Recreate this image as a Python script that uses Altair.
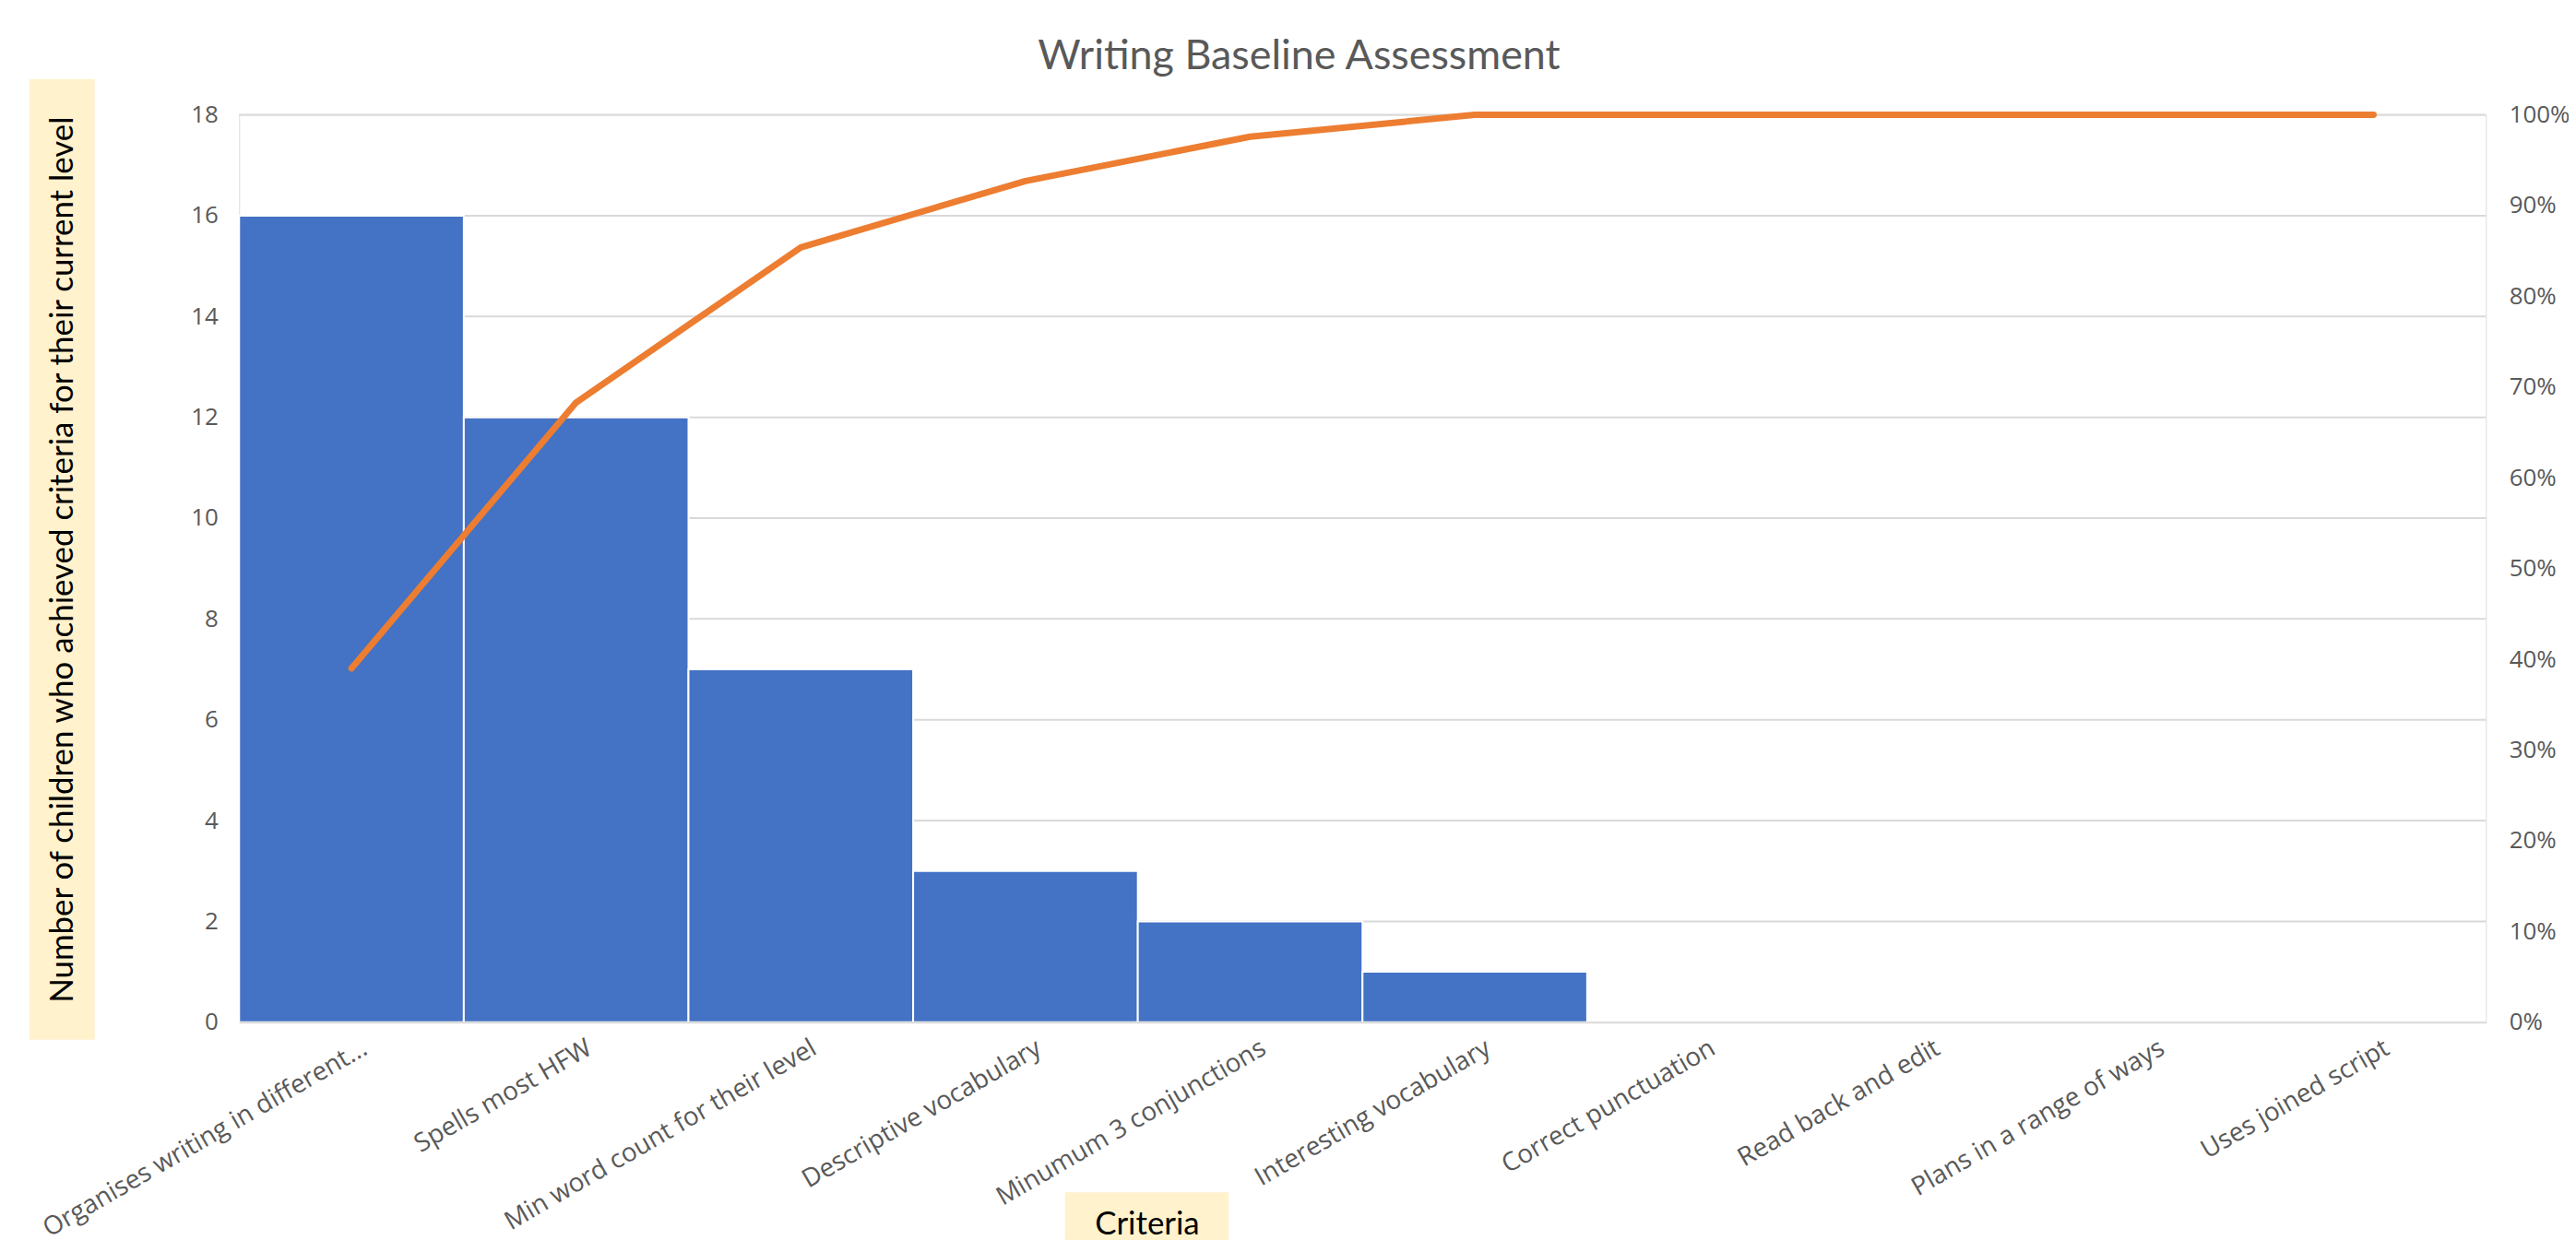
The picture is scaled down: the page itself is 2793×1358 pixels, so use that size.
import altair as alt
import pandas as pd

criteria = [
    "Organises writing in different...",
    "Spells most HFW",
    "Min word count for their level",
    "Descriptive vocabulary",
    "Minumum 3 conjunctions",
    "Interesting vocabulary",
    "Correct punctuation",
    "Read back and edit",
    "Plans in a range of ways",
    "Uses joined script",
]
counts = [16, 12, 7, 3, 2, 1, 0, 0, 0, 0]
cumulative = [0.39, 0.683, 0.854, 0.927, 0.976, 1.0, 1.0, 1.0, 1.0, 1.0]
left_ticks = [0, 2, 4, 6, 8, 10, 12, 14, 16, 18]
right_ticks = [0, 0.1, 0.2, 0.3, 0.4, 0.5, 0.6, 0.7, 0.8, 0.9, 1.0]

df = pd.DataFrame({"criteria": criteria, "count": counts, "cum": cumulative})
grid_df = pd.DataFrame({"count": left_ticks})

W, H = 2443, 987
GRAY = "#595959"
BEIGE = "#FFF2CC"

xscale = alt.Scale(domain=criteria, paddingInner=0, paddingOuter=0)
xaxis = alt.Axis(
    title="Criteria", titleFont="Lato", titleFontSize=35, titleFontWeight="normal",
    titleColor="#000000", titleX=987, titleY=219, titleBaseline="middle", titleAlign="center",
    labelAngle=-30, labelFont="Open Sans", labelFontSize=28, labelColor=GRAY,
    labelPadding=14, labelOffset=8, ticks=False, domain=True, domainColor="#D9D9D9",
    domainWidth=2, labelLimit=700, zindex=1,
)

yaxis = alt.Axis(
    values=left_ticks, grid=False, ticks=False, domain=False,
    labelFont="Open Sans", labelFontSize=26, labelColor=GRAY, labelPadding=23,
    title="Number of children who achieved criteria for their current level",
    titleFont="Lato", titleFontSize=35, titleFontWeight="normal", titleColor="#000000",
    titleX=-192, titleY=H / 2 - 10, titleBaseline="middle", titleAlign="center",
    zindex=1,
)

ybox = alt.Chart(alt.Data(values=[{}])).mark_rect(color=BEIGE).encode(
    x=alt.value(-228), x2=alt.value(-157), y=alt.value(-39), y2=alt.value(1006)
)
xbox = alt.Chart(alt.Data(values=[{}])).mark_rect(color=BEIGE).encode(
    x=alt.value(898), x2=alt.value(1076), y=alt.value(H + 185), y2=alt.value(H + 250)
)

grid = alt.Chart(grid_df).mark_rule(color="#D9D9D9", strokeWidth=2).encode(
    y=alt.Y("count:Q", scale=alt.Scale(domain=[0, 18]), axis=yaxis)
)

bars = alt.Chart(df).mark_bar(color="#4472C4", stroke="white", strokeWidth=2).encode(
    x=alt.X("criteria:N", scale=xscale, axis=xaxis, sort=criteria),
    y=alt.Y("count:Q", scale=alt.Scale(domain=[0, 18]), axis=yaxis),
)

left = alt.layer(ybox, xbox, grid, bars)

line = alt.Chart(df).mark_line(
    color="#ED7D31", strokeWidth=7, strokeCap="round", strokeJoin="round"
).encode(
    x=alt.X("criteria:N", scale=xscale, sort=criteria),
    y=alt.Y(
        "cum:Q",
        scale=alt.Scale(domain=[0, 1]),
        axis=alt.Axis(
            orient="right", values=right_ticks, format=".0%", grid=False, ticks=False,
            domain=False, labelFont="Open Sans", labelFontSize=26, labelColor=GRAY,
            labelAlign="left", labelPadding=25, title=None,
        ),
    ),
)

chart = (
    alt.layer(left, line)
    .resolve_scale(y="independent")
    .properties(
        width=W,
        height=H,
        title=alt.TitleParams(
            "Writing Baseline Assessment", font="Lato", fontSize=45, fontWeight="normal",
            color=GRAY, anchor="middle", dx=-69, offset=2,
        ),
        autosize=alt.AutoSizeParams(type="none"),
        padding={"left": 252, "top": 115, "right": 90, "bottom": 235},
    )
    .configure_view(stroke="#D9D9D9", strokeWidth=2)
    .configure(background="white")
)

chart.save("out.html", embed_options={"renderer": "svg", "actions": False})
